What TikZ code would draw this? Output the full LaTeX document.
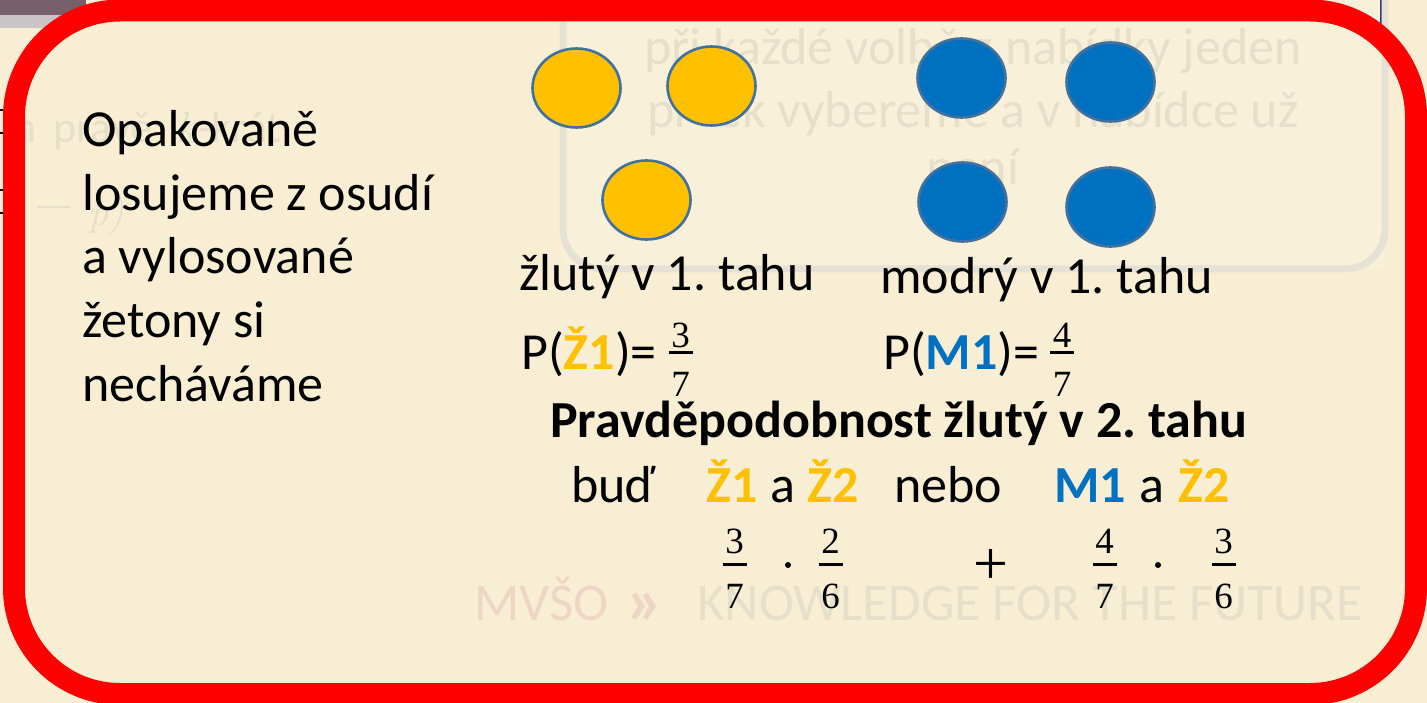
\documentclass[tikz,border=0pt]{standalone}
\usepackage{fontspec}
\newfontfamily\calfont{Carlito}
\newfontfamily\numfont{Liberation Serif}
\usetikzlibrary{shapes.geometric}
\definecolor{bgc}{HTML}{F8EED4}
\definecolor{framered}{HTML}{FF0000}
\definecolor{chipY}{HTML}{FFC000}
\definecolor{chipB}{HTML}{0070C0}
\definecolor{chipline}{HTML}{41719C}
\definecolor{ghostc}{HTML}{E6DFCA}
\definecolor{ghostred}{HTML}{EED6C6}
\definecolor{ghostgreen}{HTML}{DCE3C4}
\definecolor{ghostrect}{HTML}{E6E1D5}
\definecolor{stripdark}{HTML}{77606A}
\definecolor{striplight}{HTML}{C9C4C6}
\definecolor{navy}{HTML}{0F2A5C}
\newcommand\myfr[7]{%
  \node[fbar] (#1b) at (#2,#3) {};
  \node[fnum] (#1n) at (#2,#3-#6) {#4};
  \node[fnum] (#1d) at (#2,#3+#7) {#5};}
\frenchspacing
\begin{document}
\begin{tikzpicture}[x=1pt,y=-1pt,
  txt/.style={font=\calfont\fontsize{52}{63.5}\selectfont, inner sep=0, anchor=base west, text=black},
  btxt/.style={txt, font=\calfont\bfseries\fontsize{52}{63.5}\selectfont},
  ytxt/.style={btxt, text=chipY},
  btxtb/.style={btxt, text=chipB},
  ghost/.style={txt, text=ghostc},
  chipy/.style={ellipse, draw=chipline, line width=2.6, fill=chipY, minimum width=88, minimum height=79, inner sep=0},
  chipb/.style={chipy, fill=chipB},
  fnum/.style={font=\numfont\fontsize{37}{40}\selectfont, inner sep=0},
  fbar/.style={fill=black, inner sep=0, minimum width=24, minimum height=3.5},
  mdot/.style={circle, fill=black, inner sep=0, minimum size=6}]
\useasboundingbox (0,0) rectangle (1427,703);
% background
\fill[bgc] (0,0) rectangle (1427,703);
% fragments behind the frame
\fill[stripdark] (0,0) rectangle (86,15);
\fill[striplight] (0,15) rectangle (86,28);
\foreach \yy in {110,133,190,213} \draw[black, line width=1.6] (0,\yy) -- (4,\yy);
\fill[navy] (1380,0) rectangle (1388,45);
% ghost rounded box
\fill[white, opacity=0.12] (563,-40) rectangle (1385,269);
\path[draw=ghostrect, line width=7, rounded corners=40] (563,-40) -- (563,269) -- (1385,269) -- (1385,-40);
% ghost texts
\node[ghost, anchor=base] (g1) at (973,65) {při každé volbě z nabídky jeden};
\node[ghost, anchor=base] (g2) at (973,128) {prvek vybereme a v nabídce už};
\node[ghost, anchor=base] (g3) at (973,185) {není};
\node[ghost, font=\calfont\fontsize{44}{50}\selectfont] (g4) at (13,143) {n};
\node[ghost, font=\calfont\fontsize{44}{50}\selectfont] (g5) at (53,143) {právě};
\node[ghost, font=\itshape\fontsize{44}{50}\selectfont, text=ghostgreen] (g6) at (176,143) {k};
\node[ghost, font=\calfont\fontsize{44}{50}\selectfont] (g7) at (198,143) {-krát};
\node[ghost, font=\itshape\fontsize{40}{48}\selectfont] (g8) at (88,226) {p)};
\coordinate (gl1) at (37,207); \coordinate (gl2) at (70,207);
\draw[ghostc, line width=2.5] (gl1) -- (gl2);
\node[ghost, font=\calfont\fontsize{53}{60}\selectfont, text=ghostred] (g9) at (474,620) {MVŠO};
\node[ghost, font=\calfont\bfseries\fontsize{70}{70}\selectfont, text=ghostred] (g10) at (626,624) {»};
\node[ghost, font=\calfont\fontsize{53}{60}\selectfont] (g11) at (697,620) {KNOWLEDGE FOR THE FUTURE};
% red frame
\draw[framered, line width=22, rounded corners=106] (14,10.5) rectangle (1416,694);
% chips
\node[chipy] (y1) at (576.5,88) {};
\node[chipy] (y2) at (711.5,86) {};
\node[chipy] (y3) at (646.5,200) {};
\node[chipb] (b1) at (961.5,78) {};
\node[chipb] (b2) at (1110.5,82) {};
\node[chipb] (b3) at (962.5,202) {};
\node[chipb] (b4) at (1110.5,207) {};
% left text
\node[txt] (l1) at (82,147) {Opakovaně};
\node[txt] (l2) at (82,210.5) {losujeme z osudí};
\node[txt] (l3) at (82,274) {a vylosované};
\node[txt] (l4) at (82,337.5) {žetony si};
\node[txt] (l5) at (82,401) {necháváme};
% labels under chips
\node[txt] (zl) at (519,291) {žlutý v 1. tahu};
\node[txt] (mo) at (880,294) {modrý v 1. tahu};
% P(Z1) and P(M1)
\node[txt] (pz) at (521,370) {P(\textcolor{chipY}{\bfseries Ž1})=};
\node[txt] (pm) at (883,370) {P(\textcolor{chipB}{\bfseries M1})=};
\myfr{fa}{680.5}{352.5}{3}{7}{17}{32}
\myfr{fb}{1062}{352.5}{4}{7}{17}{32}
% heading
\node[btxt] (pr) at (550,437) {Pravděpodobnost žlutý v 2. tahu};
% either/or line
\node[txt] (bud) at (571,502) {buď};
\node[ytxt] (z1) at (706,502) {Ž1};
\node[txt] (a1) at (770,502) {a};
\node[ytxt] (z2) at (807,502) {Ž2};
\node[txt] (nebo) at (894,502) {nebo};
\node[btxtb] (m1) at (1054,502) {M1};
\node[txt] (a2) at (1139,502) {a};
\node[ytxt] (z3) at (1178,502) {Ž2};
% fractions
\myfr{f1}{734.5}{564.5}{3}{7}{23.5}{31.5}
\node[mdot] (d1) at (788,565) {};
\myfr{f2}{830.5}{564.5}{2}{6}{23.5}{31.5}
\node[inner sep=0, font=\numfont\fontsize{62}{62}\selectfont] (plus) at (991,567) {+};
\myfr{f3}{1104.5}{564.5}{4}{7}{23.5}{31.5}
\node[mdot] (d2) at (1158,565) {};
\myfr{f4}{1223.5}{564.5}{3}{6}{23.5}{31.5}
\end{tikzpicture}
\end{document}
